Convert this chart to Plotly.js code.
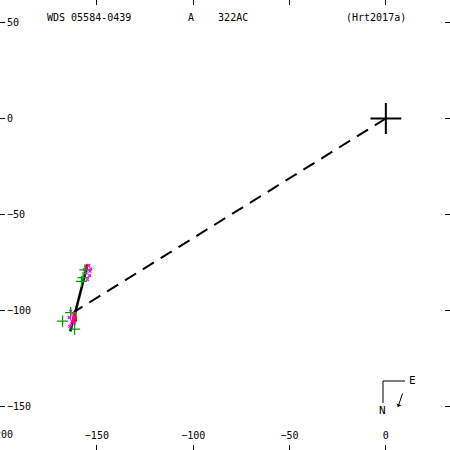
<!DOCTYPE html>
<html>
<head>
<meta charset="utf-8">
<script src="https://cdn.plot.ly/plotly-3.0.1.min.js"></script>
<style>html,body{margin:0;padding:0;background:#fff;}#plot{width:450px;height:450px;}</style>
</head>
<body>
<div id="plot"></div>
<script>
// Orbit arc (apparent, nearly edge-on)
const orbitX = [-154.8, -163.8];
const orbitY = [-76.0, -111.0];
// Dashed line from primary to current position
const nodeX = [0, -162.0];
const nodeY = [0, -101.0];
// Primary star
const primX = [0];
const primY = [0];
// Speckle / interferometric measures (magenta)
const specX = [-154.2, -153.2, -155.6, -153.8, -156.4, -154.9, -153.6, -163.6, -162.0, -163.0, -164.3, -161.6, -163.4, -162.5, -164.0];
const specY = [-76.6, -78.4, -80.5, -82.0, -78.8, -84.0, -79.6, -100.6, -103.6, -105.6, -103.8, -106.6, -107.8, -101.8, -108.4];
// Micrometer measures (green)
const microX = [-167.8, -161.6, -157.2, -156.2, -163.6, -158.0];
const microY = [-105.7, -109.9, -83.0, -79.0, -101.2, -85.0];
// O-C residual segments (red)
const ocX = [-161.4, -161.0, null, -155.6, -155.2, null, -162.2, -161.8];
const ocY = [-100.8, -106.0, null, -76.6, -79.0, null, -103.0, -107.0];

const tickVals = [-200, -150, -100, -50, 0, 50];
const titleLeft = "WDS 05584-0439";
const titleComp = "A    322AC";
const titleRef = "(Hrt2017a)";

const mono = "DejaVu Sans Mono";
const traces = [
  {x: nodeX, y: nodeY, mode: "lines", line: {color: "#000", width: 2, dash: "13px,8px"}, hoverinfo: "skip"},
  {x: orbitX, y: orbitY, mode: "lines", line: {color: "#000", width: 2.5}},
  {x: ocX, y: ocY, mode: "lines", line: {color: "#ff0000", width: 3}},
  {x: specX, y: specY, mode: "markers", marker: {symbol: "x-thin", size: 3, line: {color: "#ff00ff", width: 1.2}}},
  {x: microX, y: microY, mode: "markers", marker: {symbol: "cross-thin", size: 8, line: {color: "#00a000", width: 1.3}}},
  {x: primX, y: primY, mode: "markers", marker: {symbol: "cross-thin", size: 22, line: {color: "#000", width: 2}}},
  {x: [], y: [], xaxis: "x2", yaxis: "y2"}
];

const axBase = {
  tickvals: tickVals, ticks: "inside", ticklen: 5, tickwidth: 1, tickcolor: "#000",
  showgrid: false, zeroline: false,
  tickfont: {family: mono, size: 10, color: "#000"}
};

const layout = {
  width: 450, height: 450,
  margin: {l: 0, r: 0, t: 0, b: 0},
  paper_bgcolor: "#fff", plot_bgcolor: "#fff",
  showlegend: false,
  xaxis: Object.assign({}, axBase, {range: [-200.3, 33.3], showline: true, linecolor: "#000", linewidth: 2, ticklabelposition: "inside", ticklabelstandoff: 3}),
  yaxis: Object.assign({}, axBase, {range: [-172.9, 61.8], showline: true, linecolor: "#000", linewidth: 2, ticklabelposition: "inside", ticklabelstandoff: 1}),
  xaxis2: Object.assign({}, axBase, {overlaying: "x", matches: "x", side: "top", showticklabels: false, showline: false, anchor: "y2"}),
  yaxis2: Object.assign({}, axBase, {overlaying: "y", matches: "y", side: "right", showticklabels: false, showline: false, anchor: "x2"}),
  annotations: [
    {xref: "x", yref: "paper", x: tickVals[0], y: 1 - 434/450, xanchor: "center", yanchor: "middle", text: "\u2212" + String(-tickVals[0]), showarrow: false, font: {family: mono, size: 10, color: "#000"}},
    {xref: "paper", yref: "paper", x: 45/450, y: 1 - 17/450, xanchor: "left", yanchor: "middle", text: titleLeft, showarrow: false, font: {family: mono, size: 10, color: "#000"}},
    {xref: "paper", yref: "paper", x: 186/450, y: 1 - 17/450, xanchor: "left", yanchor: "middle", text: titleComp.replace(/ /g, "&nbsp;"), showarrow: false, font: {family: mono, size: 10, color: "#000"}},
    {xref: "paper", yref: "paper", x: 344/450, y: 1 - 17/450, xanchor: "left", yanchor: "middle", text: titleRef, showarrow: false, font: {family: mono, size: 10, color: "#000"}},
    {xref: "paper", yref: "paper", x: 412/450, y: 1 - 380/450, xanchor: "center", yanchor: "middle", text: "E", showarrow: false, font: {family: mono, size: 11, color: "#000"}},
    {xref: "paper", yref: "paper", x: 382/450, y: 1 - 410/450, xanchor: "center", yanchor: "middle", text: "N", showarrow: false, font: {family: mono, size: 11, color: "#000"}},
    {xref: "paper", yref: "paper", x: 398/450, y: 1 - 407/450, ax: 5, ay: -15, text: "", showarrow: true, arrowhead: 1, arrowsize: 0.9, arrowwidth: 1, arrowcolor: "#000"}
  ],
  shapes: [
    {type: "line", xref: "paper", yref: "paper", x0: 383/450, x1: 405/450, y0: 1 - 381/450, y1: 1 - 381/450, line: {color: "#000", width: 1}},
    {type: "line", xref: "paper", yref: "paper", x0: 383/450, x1: 383/450, y0: 1 - 381/450, y1: 1 - 403/450, line: {color: "#000", width: 1}}
  ]
};

Plotly.newPlot("plot", traces, layout, {staticPlot: true, displayModeBar: false});
</script>
</body>
</html>
